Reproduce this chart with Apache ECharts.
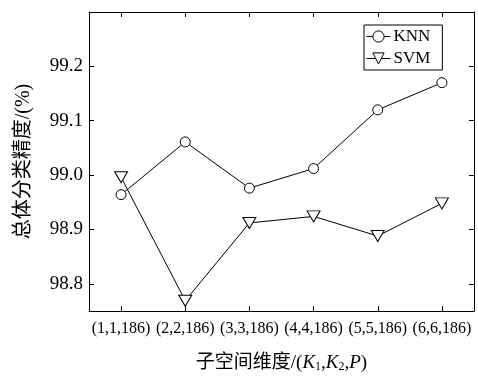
<!DOCTYPE html>
<html>
<head>
<meta charset="utf-8">
<script src="https://cdn.jsdelivr.net/npm/echarts@6/dist/echarts.min.js"></script>
<style>
html, body { margin: 0; padding: 0; background: #fff; }
#main { width: 478px; height: 378px; }
</style>
</head>
<body>
<div id="main"></div>
<script>
// 数据
var categories = ['(1,1,186)', '(2,2,186)', '(3,3,186)', '(4,4,186)', '(5,5,186)', '(6,6,186)'];
var knnData = [98.964, 99.061, 98.976, 99.012, 99.120, 99.170];
var svmData = [98.996, 98.769, 98.912, 98.924, 98.888, 98.948];
var yTicks = [98.8, 98.9, 99.0, 99.1, 99.2];

var serif = 'Liberation Serif, Noto Sans CJK SC';
var myChart = echarts.init(document.getElementById('main'));

var tickStyle = { show: true, inside: true, length: 5, lineStyle: { color: '#000', width: 1 } };

var option = {
  backgroundColor: '#fff',
  animation: false,
  grid: { left: 89, top: 12, right: 4, bottom: 59 },
  legend: {
    orient: 'vertical',
    left: 364,
    top: 25,
    padding: [3, 12, 3, 2],
    itemGap: 5,
    itemWidth: 24,
    itemHeight: 14,
    borderColor: '#000',
    borderWidth: 1,
    backgroundColor: '#fff',
    lineStyle: { width: 1 },
    itemStyle: { borderWidth: 1 },
    textStyle: { color: '#000', fontFamily: serif, fontSize: 17, padding: [0, 0, 0, -2] },
    data: ['KNN', 'SVM']
  },
  xAxis: [
    {
      type: 'category',
      data: categories,
      boundaryGap: true,
      name: '子空间维度/({i|K}{sub|1},{i|K}{sub|2},{i|P})',
      nameLocation: 'middle',
      nameGap: 43,
      nameTextStyle: {
        color: '#000', fontFamily: serif, fontSize: 19,
        rich: {
          i: { fontStyle: 'italic', fontFamily: serif, fontSize: 19, color: '#000' },
          sub: { fontFamily: serif, fontSize: 12, color: '#000', verticalAlign: 'bottom', padding: [7, 0, 0, 0] }
        }
      },
      axisLine: { lineStyle: { color: '#000', width: 1 } },
      axisTick: Object.assign({ alignWithLabel: true }, tickStyle),
      axisLabel: { color: '#000', fontFamily: serif, fontSize: 16, margin: 10, interval: 0 },
      splitLine: { show: false }
    },
    {
      type: 'category',
      data: categories,
      position: 'top',
      boundaryGap: true,
      axisLine: { lineStyle: { color: '#000', width: 1 } },
      axisTick: Object.assign({ alignWithLabel: true }, tickStyle),
      axisLabel: { show: false },
      splitLine: { show: false }
    }
  ],
  yAxis: [
    {
      type: 'value',
      min: 98.75,
      max: 99.3,
      name: '总体分类精度/(%)',
      nameLocation: 'middle',
      nameGap: 55,
      nameTextStyle: { color: '#000', fontFamily: serif, fontSize: 20 },
      axisLine: { show: true, lineStyle: { color: '#000', width: 1 } },
      axisTick: Object.assign({ customValues: yTicks }, tickStyle),
      axisLabel: {
        color: '#000', fontFamily: serif, fontSize: 19, margin: 6,
        customValues: yTicks,
        formatter: function (v) { return v.toFixed(1); }
      },
      splitLine: { show: false }
    },
    {
      type: 'value',
      min: 98.75,
      max: 99.3,
      position: 'right',
      axisLine: { show: true, lineStyle: { color: '#000', width: 1 } },
      axisTick: Object.assign({ customValues: yTicks }, tickStyle),
      axisLabel: { show: false },
      splitLine: { show: false }
    }
  ],
  series: [
    {
      name: 'KNN',
      type: 'line',
      data: knnData,
      symbol: 'circle',
      symbolSize: 10,
      itemStyle: { color: '#fff', borderColor: '#000', borderWidth: 1 },
      lineStyle: { color: '#000', width: 1 }
    },
    {
      name: 'SVM',
      type: 'line',
      data: svmData,
      symbol: 'triangle',
      symbolRotate: 180,
      symbolSize: [13, 11],
      itemStyle: { color: '#fff', borderColor: '#000', borderWidth: 1 },
      lineStyle: { color: '#000', width: 1 }
    }
  ]
};

myChart.setOption(option);
window.onresize = function () {
  myChart.resize();
};
</script>
</body>
</html>
